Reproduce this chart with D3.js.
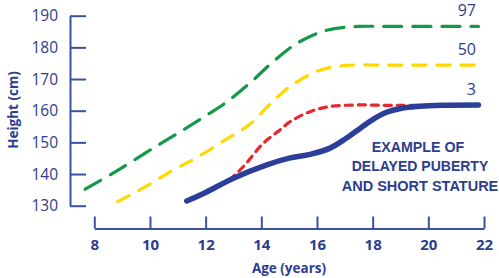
<!DOCTYPE html>
<html>
<head>
<meta charset="utf-8">
<script src="https://cdn.jsdelivr.net/npm/d3@7"></script>
<style>
  body { margin: 0; background: #fff; }
  svg { display: block; }
  text { font-family: "Open Sans", sans-serif; fill: #2c3d8f; }
</style>
</head>
<body>
<div id="chart"></div>
<script>
// percentile curves (age in years, height in cm)
const p97Age = [7.67, 8.75, 10.1, 11.1, 12.0, 12.7, 13.6, 14.4, 15.3, 16.35, 17.5, 18.5, 21.8];
const p97Height = [135.2, 140.7, 148.1, 153.4, 158.4, 162.4, 168.8, 175.3, 181.4, 185.4, 186.6, 186.6, 186.6];

const p50Age = [8.84, 9.64, 10.84, 11.7, 12.8, 13.6, 14.25, 14.9, 15.3, 16.1, 17.07, 18.5, 21.8];
const p50Height = [131.3, 135, 141.3, 145.3, 151.3, 155.8, 161.5, 166.8, 169.2, 172.8, 174.3, 174.4, 174.4];

const p3Age = [12.85, 13.35, 14.07, 14.67, 15.03, 15.75, 16.45, 17.4, 18.5, 21.8];
const p3Height = [138.1, 142.3, 149.7, 153.9, 156.5, 159.7, 161.3, 161.8, 161.7, 161.6];

// example patient
const patientAge = [11.32, 12, 13, 14.2, 15.0, 15.75, 16.45, 17.05, 17.55, 18.0, 18.5, 19.0, 19.7, 20.5, 21.8];
const patientHeight = [131.5, 134.2, 138.7, 142.9, 145, 146.2, 148.1, 151.3, 154.4, 157.2, 159.5, 160.7, 161.4, 161.7, 161.8];

const xTicks = [8, 10, 12, 14, 16, 18, 20, 22];
const yTicks = [130, 140, 150, 160, 170, 180, 190];
const note = ['EXAMPLE OF', 'DELAYED PUBERTY', 'AND SHORT STATURE'];

const W = 499, H = 278;
const axisColor = '#3a50a4';

const svg = d3.select('#chart').append('svg')
  .attr('width', W)
  .attr('height', H);

const x = d3.scaleLinear().domain([8, 22]).range([94.3, 484]);
const y = d3.scaleLinear().domain([130, 190]).range([205.7, 15.7]);

// y axis: ticks pointing into the plot, labels on the left
const yAxis = svg.append('g')
  .attr('transform', 'translate(70,0)')
  .call(d3.axisLeft(y).tickValues(yTicks).tickSize(-16).tickSizeOuter(0).tickPadding(12));
// x axis: ticks pointing up, labels below
const xAxis = svg.append('g')
  .attr('transform', 'translate(0,228.5)')
  .call(d3.axisBottom(x).tickValues(xTicks).tickSize(-12).tickSizeOuter(0).tickPadding(11));

[yAxis, xAxis].forEach(function(a) {
  a.select('.domain').attr('stroke', axisColor).attr('stroke-width', 2);
  a.selectAll('.tick line').attr('stroke', axisColor).attr('stroke-width', 2);
  a.selectAll('.tick text').style('fill', '#2c3d8f').style('font-family', '"Open Sans", sans-serif');
});
yAxis.selectAll('.tick text').style('font-size', '15.5px').style('font-weight', 500);
xAxis.selectAll('.tick text').style('font-size', '15px').style('font-weight', 700);

svg.append('text')
  .attr('transform', 'translate(18,110) rotate(-90)')
  .attr('text-anchor', 'middle')
  .style('font-size', '13.5px')
  .style('font-weight', 700)
  .text('Height (cm)');

svg.append('text')
  .attr('x', 289)
  .attr('y', 273)
  .attr('text-anchor', 'middle')
  .style('font-size', '13.5px')
  .style('font-weight', 700)
  .text('Age (years)');

const line = d3.line()
  .x(function(d) { return x(d[0]); })
  .y(function(d) { return y(d[1]); })
  .curve(d3.curveCatmullRom.alpha(0.5));

function pairs(a, b) { return a.map(function(v, i) { return [v, b[i]]; }); }

const curves = [
  { name: '97', pts: pairs(p97Age, p97Height), color: '#13994a', dash: '18,11', w: 3.2 },
  { name: '50', pts: pairs(p50Age, p50Height), color: '#ffd800', dash: '13,11', w: 3.2 },
  { name: '3', pts: pairs(p3Age, p3Height), color: '#e8262d', dash: '7,6', w: 3.2 }
];

svg.selectAll('.pct')
  .data(curves)
  .enter().append('path')
  .attr('class', 'pct')
  .attr('d', function(d) { return line(d.pts); })
  .attr('fill', 'none')
  .attr('stroke', function(d) { return d.color; })
  .attr('stroke-width', function(d) { return d.w; })
  .attr('stroke-dasharray', function(d) { return d.dash; })
  .attr('stroke-linecap', 'round');

svg.selectAll('.pctlabel')
  .data(curves)
  .enter().append('text')
  .attr('class', 'pctlabel')
  .attr('x', x(22) - 8)
  .attr('y', function(d) { return y(d.pts[d.pts.length - 1][1]) - 10.5; })
  .attr('text-anchor', 'end')
  .style('font-size', '16px')
  .text(function(d) { return d.name; });

svg.append('path')
  .attr('d', line(pairs(patientAge, patientHeight)))
  .attr('fill', 'none')
  .attr('stroke', '#2b3f98')
  .attr('stroke-width', 5.5)
  .attr('stroke-linecap', 'round');

const noteWidths = [92.6, 136.6, 156.6];
svg.selectAll('.note')
  .data(note)
  .enter().append('text')
  .attr('class', 'note')
  .attr('x', function(d, i) { return i === 0 ? 418 : 420; })
  .attr('y', function(d, i) { return 151.5 + i * 19.7; })
  .attr('text-anchor', 'middle')
  .attr('textLength', function(d, i) { return noteWidths[i]; })
  .attr('lengthAdjust', 'spacingAndGlyphs')
  .style('font-family', '"Liberation Sans Narrow", "Liberation Sans", sans-serif')
  .style('font-size', '14.5px')
  .style('font-weight', 700)
  .text(function(d) { return d; });
</script>
</body>
</html>
